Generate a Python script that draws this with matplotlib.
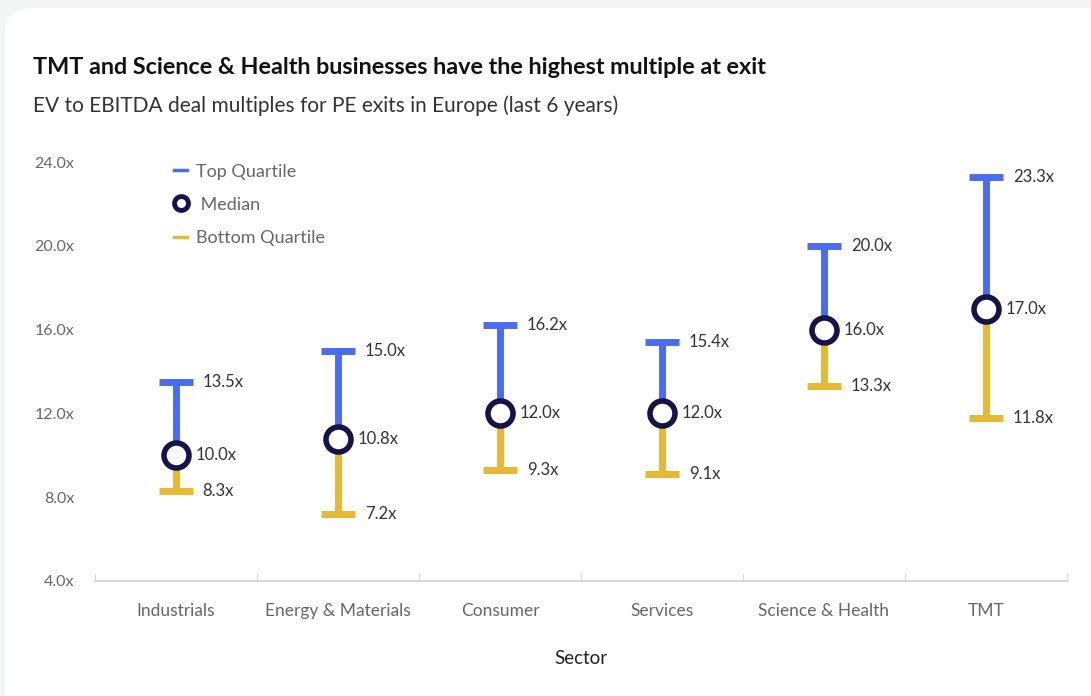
import matplotlib.pyplot as plt
from matplotlib.lines import Line2D
from matplotlib.patches import FancyBboxPatch
import numpy as np

sectors = ['Industrials', 'Energy & Materials', 'Consumer', 'Services',
           'Science & Health', 'TMT']
top_quartile = [13.5, 15.0, 16.2, 15.4, 20.0, 23.3]
median = [10.0, 10.8, 12.0, 12.0, 16.0, 17.0]
bottom_quartile = [8.3, 7.2, 9.3, 9.1, 13.3, 11.8]
y_ticks = [4.0, 8.0, 12.0, 16.0, 20.0, 24.0]

BLUE = '#4a6cf2'
GOLD = '#e6b833'
NAVY = '#15134a'
TEXT = '#333333'
GREY = '#666666'

plt.rcParams['font.family'] = ['Lato', 'DejaVu Sans']

fig = plt.figure(figsize=(10.91, 6.96), dpi=100)
fig.patch.set_facecolor('#f3f4f4')
card = FancyBboxPatch((5 / 1091, -0.05), 1.2, 1.0 - 8 / 696 + 0.05,
                      boxstyle='round,pad=0,rounding_size=0.03',
                      transform=fig.transFigure, facecolor='white',
                      edgecolor='none', zorder=-10)
fig.patches.append(card)

ax = fig.add_axes([95 / 1091, 1 - 581 / 696, (1067 - 95) / 1091, (581 - 162) / 696])
ax.set_facecolor('none')

x = np.arange(len(sectors))
cap = 0.105

# whiskers: blue from median up to top quartile, gold from median down to bottom quartile
ax.vlines(x, median, top_quartile, color=BLUE, lw=5, zorder=2)
ax.vlines(x, bottom_quartile, median, color=GOLD, lw=5, zorder=2)
ax.hlines(top_quartile, x - cap, x + cap, color=BLUE, lw=5, zorder=2)
ax.hlines(bottom_quartile, x - cap, x + cap, color=GOLD, lw=5, zorder=2)
ax.plot(x, median, 'o', ms=18, mfc='white', mec=NAVY, mew=4, ls='none', zorder=3)

for xi, t, m, b in zip(x, top_quartile, median, bottom_quartile):
    ax.text(xi + 0.165, t, f'{t:.1f}x', va='center', ha='left', fontsize=12, color=TEXT)
    ax.text(xi + 0.12, m, f'{m:.1f}x', va='center', ha='left', fontsize=12, color=TEXT)
    ax.text(xi + 0.165, b, f'{b:.1f}x', va='center', ha='left', fontsize=12, color=TEXT)

ax.set_xlim(-0.5, len(sectors) - 0.5)
ax.set_ylim(4.0, 24.0)
ax.set_yticks(y_ticks)
ax.set_yticklabels([f'{v:.1f}x' for v in y_ticks])
ax.set_xticks(x)
ax.set_xticklabels(sectors)
ax.set_xticks(np.arange(len(sectors) + 1) - 0.5, minor=True)
ax.tick_params(axis='x', which='major', length=0, pad=16, labelsize=12.5, labelcolor=GREY)
ax.tick_params(axis='x', which='minor', length=6, color='#d0d0d0', direction='in')
ax.tick_params(axis='y', length=0, pad=15, labelsize=11.5, labelcolor=GREY)
for s in ['top', 'right', 'left']:
    ax.spines[s].set_visible(False)
ax.spines['bottom'].set_color('#d0d0d0')
ax.spines['bottom'].set_linewidth(1.2)
ax.set_xlabel('Sector', fontsize=13.5, color='#222222', labelpad=22)

handles = [
    Line2D([], [], color=BLUE, lw=2.5, label='Top Quartile'),
    Line2D([], [], marker='o', ls='none', ms=10, mfc='white', mec=NAVY, mew=3.5, label=' Median'),
    Line2D([], [], color=GOLD, lw=2.5, label='Bottom Quartile'),
]
ax.legend(handles=handles, loc='upper left', bbox_to_anchor=(0.065, 1.035), frameon=False,
          handlelength=0.7, handletextpad=0.5, labelspacing=0.95, fontsize=13,
          labelcolor=GREY)

fig.text(33 / 1091, 1 - 68 / 696, 'TMT and Science & Health businesses have the highest multiple at exit',
         fontsize=16.8, fontweight='bold', color='#111111', va='center', ha='left')
fig.text(33 / 1091, 1 - 106 / 696, 'EV to EBITDA deal multiples for PE exits in Europe (last 6 years)',
         fontsize=15, color=TEXT, va='center', ha='left')

fig.savefig('out.png', dpi=100)
